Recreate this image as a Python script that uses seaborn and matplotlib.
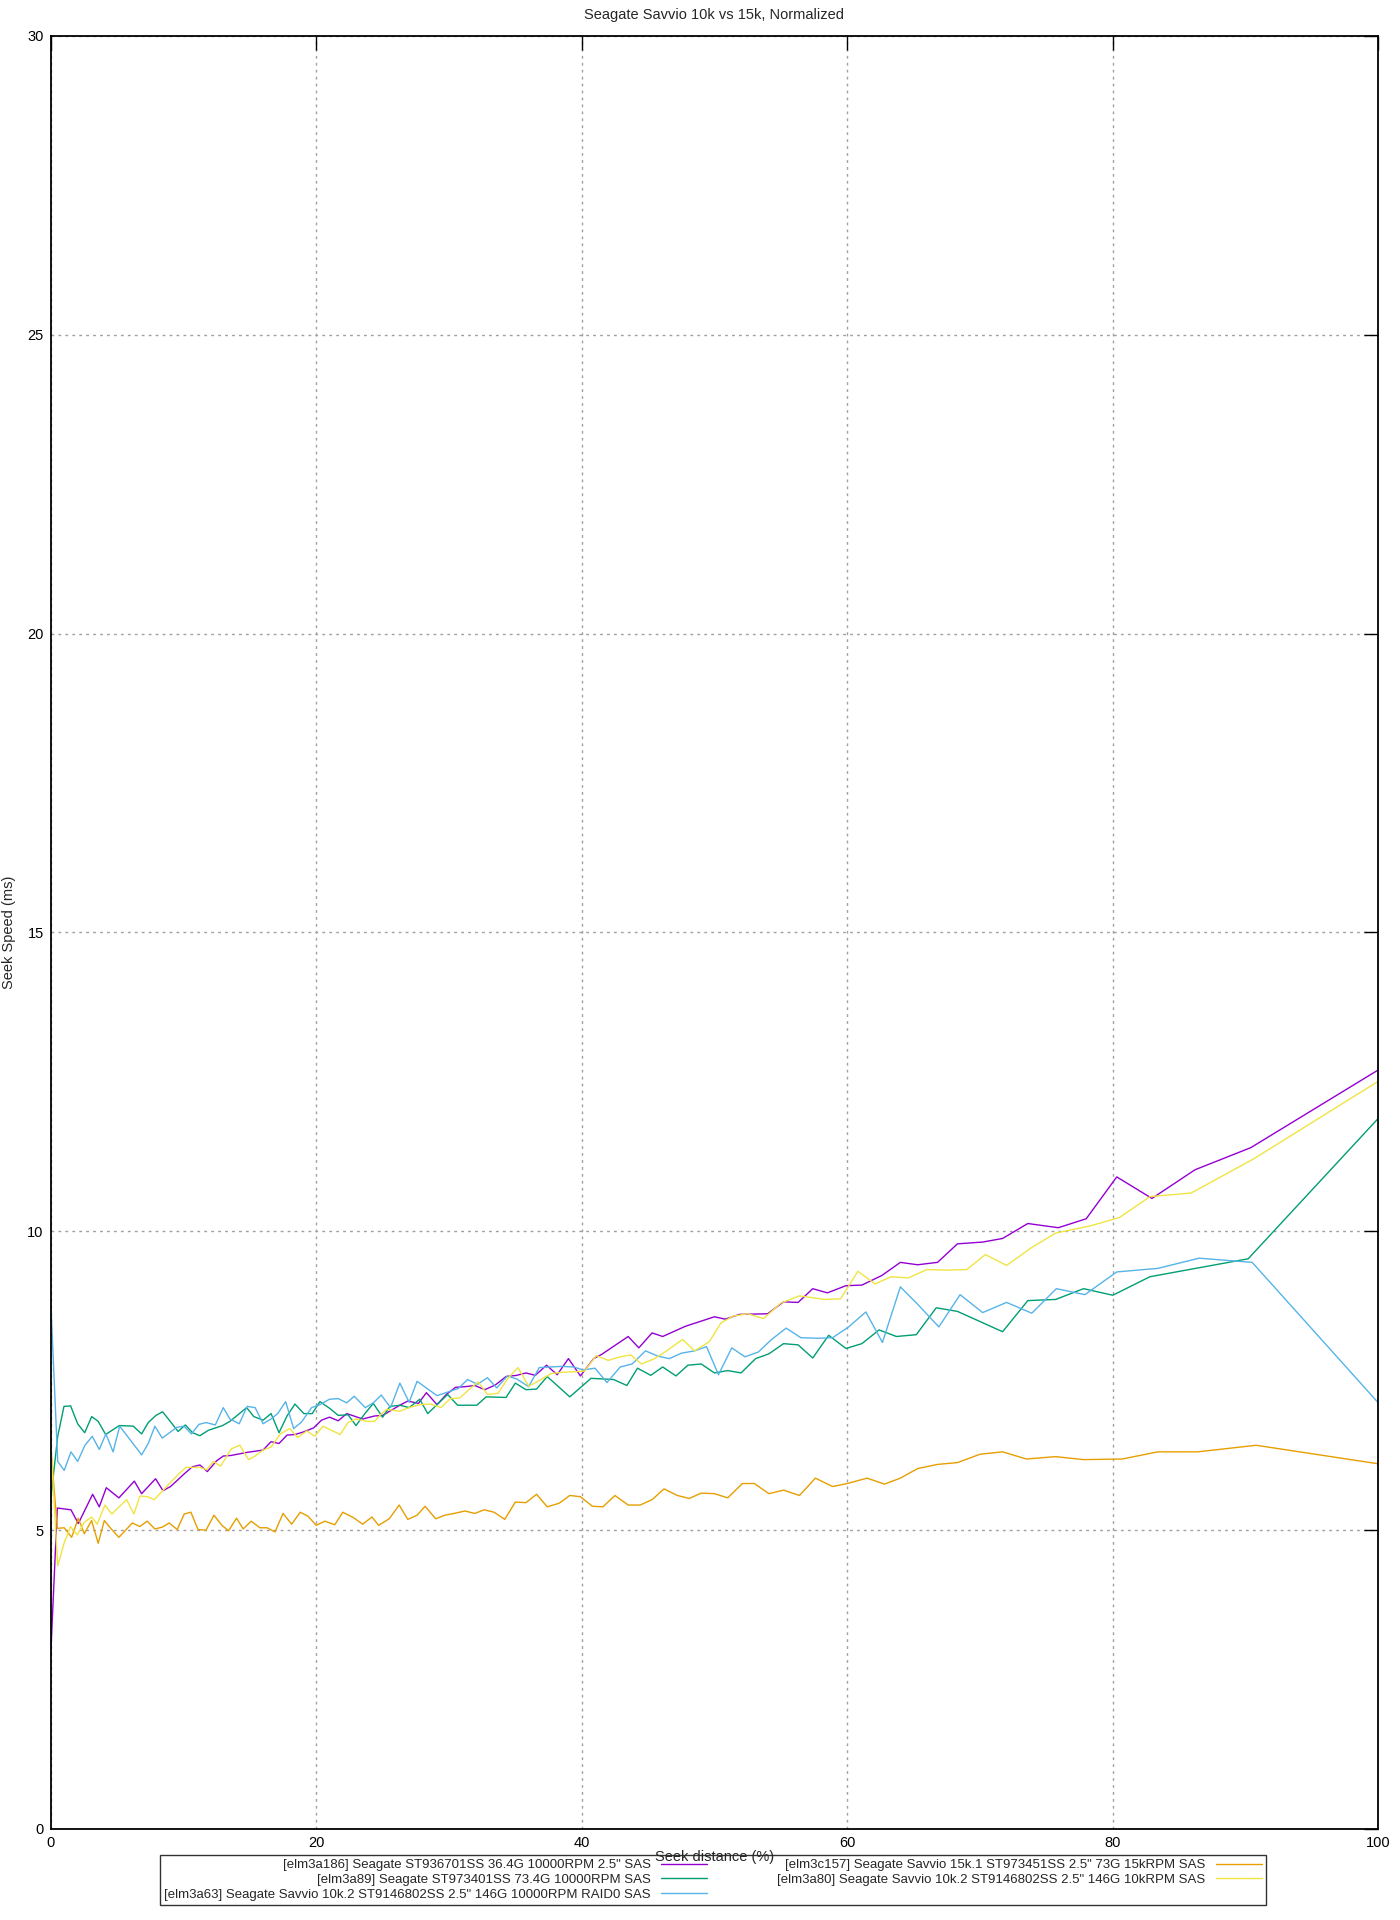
import matplotlib
matplotlib.use("Agg")
import matplotlib.pyplot as plt
import seaborn as sns
import pandas as pd

TITLE = "Seagate Savvio 10k vs 15k, Normalized"
X_LABEL = "Seek distance (%)"
Y_LABEL = "Seek Speed (ms)"

LABELS = [
    '[elm3a186] Seagate ST936701SS 36.4G 10000RPM 2.5" SAS',
    '[elm3a89] Seagate ST973401SS 73.4G 10000RPM SAS',
    '[elm3a63] Seagate Savvio 10k.2 ST9146802SS 2.5" 146G 10000RPM RAID0 SAS',
    '[elm3c157] Seagate Savvio 15k.1 ST973451SS 2.5" 73G 15kRPM SAS',
    '[elm3a80] Seagate Savvio 10k.2 ST9146802SS 2.5" 146G 10kRPM SAS',
]
COLORS = ["#9400d3", "#009e73", "#56b4e9", "#e69f00", "#f0e442"]

# elm3a186 (purple)
a186_x = [0, 0.5, 1.53, 2.08, 2.63, 3.16, 3.66, 4.19, 5.14, 6.3, 6.85, 7.9, 8.46, 9.03, 10.1,
          10.67, 11.24, 11.8, 12.5, 13.0, 13.6, 14.76, 16.0, 16.6, 17.2, 17.8, 18.4, 19.0, 19.8,
          20.4, 21.0, 21.66, 22.3, 23.5, 24.4, 25.0, 26.3, 26.9, 27.7, 28.3, 29.1, 29.8, 30.5,
          31.2, 31.95, 32.7, 33.5, 34.3, 35.1, 35.8, 36.5, 37.35, 38.15, 39.0, 39.9, 40.9, 41.5,
          43.5, 44.3, 45.3, 46.1, 47.8, 50.0, 50.8, 51.9, 54.0, 55.2, 56.3, 57.4, 58.5, 59.9,
          61.1, 62.6, 64.0, 65.3, 66.8, 68.3, 70.2, 71.7, 73.6, 75.9, 78.0, 80.3, 82.95, 86.2,
          90.4, 100]
a186_y = [2.9, 5.37, 5.34, 5.11, 5.36, 5.6, 5.39, 5.71, 5.54, 5.82, 5.61, 5.86, 5.66, 5.73, 5.95,
          6.06, 6.09, 5.98, 6.16, 6.24, 6.25, 6.30, 6.34, 6.48, 6.45, 6.59, 6.60, 6.64, 6.71,
          6.84, 6.89, 6.83, 6.95, 6.86, 6.91, 6.92, 7.09, 7.16, 7.12, 7.30, 7.10, 7.27, 7.39,
          7.40, 7.42, 7.35, 7.43, 7.57, 7.59, 7.63, 7.59, 7.76, 7.60, 7.87, 7.58, 7.87, 7.94,
          8.24, 8.05, 8.30, 8.24, 8.41, 8.57, 8.53, 8.61, 8.62, 8.82, 8.81, 9.04, 8.97, 9.09,
          9.10, 9.26, 9.48, 9.44, 9.48, 9.79, 9.82, 9.88, 10.13, 10.06, 10.21, 10.91, 10.55, 11.03,
          11.40, 12.70]

# elm3a89 (green)
a89_x = [0, 0.53, 1.0, 1.5, 2.03, 2.56, 3.09, 3.58, 4.14, 5.17, 6.22, 6.85, 7.35, 7.93, 8.43,
         9.04, 9.6, 10.14, 10.69, 11.24, 11.87, 12.95, 13.5, 14.0, 14.76, 15.3, 16.0, 16.6, 17.2,
         17.8, 18.4, 19.07, 19.7, 20.28, 21.0, 21.66, 22.4, 23.0, 23.7, 24.3, 25.0, 25.55, 26.3,
         27.0, 27.8, 28.4, 29.9, 30.65, 32.1, 32.8, 34.3, 35.0, 35.8, 36.6, 37.4, 39.1, 40.7,
         42.4, 43.4, 44.2, 45.2, 46.1, 47.1, 48.0, 49.0, 50.0, 51.0, 52.0, 53.1, 54.1, 55.2,
         56.3, 57.4, 58.6, 59.9, 61.1, 62.4, 63.7, 65.2, 66.7, 68.3, 71.7, 73.6, 75.7, 77.8,
         80.0, 82.8, 90.2, 100]
a89_y = [5.51, 6.57, 7.07, 7.08, 6.78, 6.63, 6.90, 6.82, 6.60, 6.75, 6.74, 6.61, 6.80, 6.92, 6.98,
         6.81, 6.65, 6.76, 6.63, 6.58, 6.67, 6.75, 6.82, 6.91, 7.05, 6.90, 6.84, 6.95, 6.63,
         6.91, 7.11, 6.95, 6.95, 7.15, 7.04, 6.92, 6.93, 6.75, 6.96, 7.12, 6.89, 7.07, 7.09,
         7.05, 7.19, 6.95, 7.27, 7.09, 7.09, 7.23, 7.22, 7.46, 7.35, 7.36, 7.57, 7.23, 7.54,
         7.52, 7.42, 7.71, 7.59, 7.73, 7.58, 7.76, 7.78, 7.63, 7.67, 7.63, 7.87, 7.95, 8.12,
         8.10, 7.88, 8.26, 8.04, 8.12, 8.35, 8.24, 8.27, 8.72, 8.66, 8.32, 8.84, 8.86, 9.04,
         8.93, 9.24, 9.54, 11.89]

# elm3a63 (blue)
a63_x = [0, 0.53, 1.02, 1.53, 2.03, 2.58, 3.13, 3.66, 4.16, 4.7, 5.2, 6.85, 7.35, 7.85, 8.4,
         9.5, 10.04, 10.6, 11.17, 11.7, 12.4, 13.0, 13.5, 14.2, 14.8, 15.4, 16.0, 16.6, 17.1,
         17.7, 18.3, 18.9, 19.65, 20.28, 21.0, 21.66, 22.3, 22.86, 23.7, 24.3, 24.9, 25.6, 26.3,
         27.0, 27.6, 29.1, 30.7, 31.4, 32.15, 32.9, 33.6, 34.4, 35.1, 36.0, 36.8, 37.7, 38.5,
         39.4, 40.1, 41.0, 41.9, 42.9, 43.8, 44.8, 45.75, 46.6, 47.5, 48.5, 49.4, 50.3, 51.3,
         52.3, 53.3, 54.3, 55.4, 56.5, 57.8, 58.9, 60.1, 61.4, 62.65, 64.0, 65.3, 66.9, 68.5,
         70.2, 72.0, 73.9, 75.75, 77.9, 80.3, 83.4, 86.5, 90.5, 100]
a63_y = [8.86, 6.15, 6.00, 6.31, 6.15, 6.42, 6.57, 6.35, 6.61, 6.31, 6.74, 6.26, 6.45, 6.74, 6.54,
         6.72, 6.74, 6.61, 6.77, 6.80, 6.76, 7.05, 6.86, 6.78, 7.07, 7.05, 6.78, 6.86, 6.95,
         7.15, 6.70, 6.81, 7.05, 7.10, 7.19, 7.20, 7.13, 7.24, 7.05, 7.13, 7.26, 7.05, 7.46,
         7.14, 7.49, 7.25, 7.37, 7.52, 7.44, 7.55, 7.38, 7.58, 7.53, 7.40, 7.72, 7.73, 7.74,
         7.73, 7.68, 7.71, 7.47, 7.73, 7.78, 8.00, 7.91, 7.87, 7.96, 8.00, 8.07, 7.60, 8.05,
         7.90, 7.98, 8.19, 8.38, 8.22, 8.21, 8.22, 8.40, 8.65, 8.14, 9.07, 8.78, 8.40, 8.94,
         8.64, 8.81, 8.63, 9.04, 8.94, 9.32, 9.38, 9.55, 9.48, 7.13]

# elm3c157 (orange)
c157_x = [0, 0.5, 1.02, 1.58, 2.08, 2.53, 3.08, 3.58, 4.04, 4.6, 5.14, 6.15, 6.72, 7.27, 7.85,
          8.4, 8.93, 9.53, 10.06, 10.56, 11.1, 11.7, 12.3, 12.9, 13.4, 14.0, 14.5, 15.1, 15.76,
          16.3, 16.9, 17.5, 18.15, 18.8, 19.4, 20.0, 20.65, 21.4, 22.0, 22.8, 23.5, 24.2, 24.7,
          25.5, 26.25, 26.9, 27.6, 28.2, 29.0, 29.7, 30.4, 31.2, 31.95, 32.65, 33.4, 34.2, 35.0,
          35.8, 36.6, 37.4, 38.3, 39.1, 39.9, 40.8, 41.6, 42.5, 43.5, 44.4, 45.3, 46.2, 47.2,
          48.1, 49.0, 50.0, 51.0, 52.1, 53.0, 54.1, 55.2, 56.4, 57.6, 58.9, 60.0, 61.5, 62.8,
          64.0, 65.3, 66.8, 68.3, 70.0, 71.7, 73.5, 75.7, 77.8, 80.7, 83.4, 86.4, 90.8, 100]
c157_y = [6.40, 5.03, 5.04, 4.88, 5.20, 4.94, 5.16, 4.78, 5.16, 5.01, 4.88, 5.12, 5.06, 5.15, 5.02,
          5.05, 5.12, 5.01, 5.27, 5.30, 5.01, 5.00, 5.25, 5.08, 4.99, 5.20, 5.02, 5.15, 5.04,
          5.04, 4.97, 5.28, 5.10, 5.30, 5.23, 5.08, 5.15, 5.09, 5.30, 5.21, 5.10, 5.22, 5.08,
          5.19, 5.42, 5.18, 5.25, 5.40, 5.19, 5.25, 5.28, 5.32, 5.28, 5.34, 5.30, 5.18, 5.47,
          5.46, 5.60, 5.39, 5.45, 5.58, 5.56, 5.40, 5.39, 5.58, 5.42, 5.42, 5.51, 5.69, 5.58,
          5.53, 5.62, 5.61, 5.54, 5.78, 5.78, 5.61, 5.67, 5.58, 5.87, 5.73, 5.78, 5.87, 5.77,
          5.87, 6.03, 6.10, 6.13, 6.27, 6.31, 6.19, 6.23, 6.18, 6.19, 6.31, 6.31, 6.42, 6.11]

# elm3a80 (yellow)
a80_x = [0, 0.53, 1.02, 1.5, 2.0, 2.53, 3.08, 3.5, 4.09, 4.6, 5.72, 6.27, 6.72, 7.3, 7.8,
         8.48, 9.6, 10.19, 11.24, 11.75, 12.25, 12.8, 13.6, 14.25, 14.9, 15.4, 16.0, 16.6, 17.3,
         18.0, 18.6, 19.3, 19.9, 20.5, 21.8, 22.4, 23.0, 23.8, 24.4, 24.8, 25.3, 26.3, 27.0,
         27.8, 28.6, 29.4, 30.1, 30.8, 31.6, 32.2, 32.9, 33.7, 34.4, 35.2, 36.0, 36.7, 37.7,
         38.5, 39.4, 40.2, 41.1, 42.0, 42.9, 43.7, 44.5, 45.5, 46.4, 47.6, 48.5, 49.6, 50.5,
         51.4, 52.5, 53.7, 55.0, 56.4, 58.3, 59.5, 60.8, 62.1, 63.3, 64.6, 66.0, 67.5, 69.0,
         70.4, 72.0, 73.9, 75.7, 78.3, 80.5, 82.8, 85.9, 90.6, 100]
a80_y = [6.50, 4.40, 4.79, 5.06, 4.92, 5.13, 5.22, 5.10, 5.42, 5.27, 5.51, 5.27, 5.57, 5.56, 5.51,
         5.67, 5.93, 6.05, 6.05, 6.01, 6.15, 6.07, 6.36, 6.42, 6.18, 6.24, 6.34, 6.39, 6.61,
         6.70, 6.55, 6.66, 6.57, 6.74, 6.60, 6.80, 6.86, 6.82, 6.82, 6.92, 7.02, 6.99, 7.05,
         7.10, 7.11, 7.05, 7.20, 7.21, 7.37, 7.48, 7.27, 7.29, 7.53, 7.72, 7.41, 7.49, 7.62,
         7.64, 7.65, 7.66, 7.92, 7.84, 7.90, 7.93, 7.78, 7.87, 8.00, 8.19, 8.00, 8.15, 8.47,
         8.58, 8.62, 8.54, 8.80, 8.92, 8.86, 8.87, 9.33, 9.12, 9.24, 9.22, 9.36, 9.35, 9.36,
         9.61, 9.43, 9.73, 9.97, 10.09, 10.23, 10.58, 10.64, 11.21, 12.51]

SERIES = [(a186_x, a186_y), (a89_x, a89_y), (a63_x, a63_y), (c157_x, c157_y), (a80_x, a80_y)]

sns.set_theme(style="white")
plt.rcParams["font.family"] = ["Liberation Sans", "DejaVu Sans"]

fig = plt.figure(figsize=(14, 19.2), dpi=100)
ax = fig.add_axes([0.0362, 0.0474, 0.9483, 0.9339])

for (xs, ys), label, color in zip(SERIES, LABELS, COLORS):
    df = pd.DataFrame({"x": xs, "y": ys})
    sns.lineplot(data=df, x="x", y="y", ax=ax, color=color, linewidth=1.0,
                 estimator=None, sort=False, label=label)

handles, labels = ax.get_legend_handles_labels()
if ax.get_legend() is not None:
    ax.get_legend().remove()

ax.set_xlim(0, 100)
ax.set_ylim(0, 30)
ax.set_xticks(range(0, 101, 20))
ax.set_yticks(range(0, 31, 5))
ax.grid(True, color="#a0a0a0", linestyle=(0, (2, 3)), linewidth=1.0)
ax.tick_params(direction="in", length=10, width=1, top=True, right=True,
               labelsize=10.5, colors="black", pad=5)
for sp in ax.spines.values():
    sp.set_color("black")
    sp.set_linewidth(1.3)

ax.set_title(TITLE, fontsize=10.5, pad=12)
ax.set_xlabel(X_LABEL, fontsize=10.5)
ax.xaxis.set_label_coords(0.5, -0.0155)
ax.xaxis.label.set_va("center")
ax.set_ylabel(Y_LABEL, fontsize=10.5)
ax.yaxis.set_label_coords(-0.0262, 0.5)

leg = fig.legend(handles, labels, loc="center", ncol=2, mode="expand",
                 bbox_to_anchor=(0.1143, 0.0073, 0.79, 0.0271),
                 markerfirst=False, fontsize=9.5, frameon=True, fancybox=False,
                 handlelength=3.5, labelspacing=0.2, borderpad=0.3,
                 borderaxespad=0, columnspacing=2)
leg.get_frame().set_edgecolor("black")
leg.get_frame().set_linewidth(1.0)
# keep the x label drawn over the legend box, as in the original
leg.set_zorder(-1)

fig.savefig("out.png", dpi=100)
